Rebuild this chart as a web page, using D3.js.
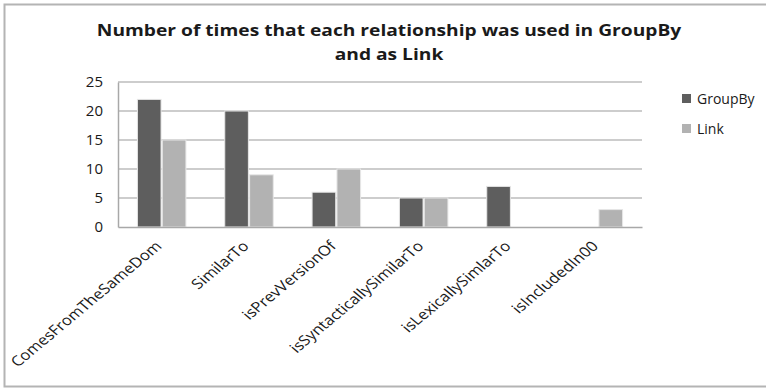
<!DOCTYPE html>
<html>
<head>
<meta charset="utf-8">
<script src="https://cdn.jsdelivr.net/npm/d3@7"></script>
<style>
  html, body { margin: 0; padding: 0; background: #fff; }
  svg { display: block; }
  text { font-family: "Open Sans", sans-serif; fill: #1a1a1a; }
</style>
</head>
<body>
<svg id="chart" width="766" height="388"></svg>
<script>
// Relationship usage counts
const categories = ["ComesFromTheSameDom", "SimilarTo", "isPrevVersionOf",
  "isSyntacticallySimilarTo", "isLexicallySimlarTo", "isIncludedIn00"];
const groupByValues = [22, 20, 6, 5, 7, 0];
const linkValues = [15, 9, 10, 5, 0, 3];
const seriesNames = ["GroupBy", "Link"];
const yTicks = [0, 5, 10, 15, 20, 25];
const titleLines = ["Number of times that each relationship was used in GroupBy", "and as Link"];

const colors = { GroupBy: "#5e5e5e", Link: "#b2b2b2" };

const svg = d3.select("#chart");
const W = 766, H = 388;
const plot = { left: 118, right: 642, top: 82, bottom: 227 };
const stretch = 1.2; // horizontal widening applied to title and slanted labels

// Outer frame
svg.append("rect")
  .attr("x", 4.5).attr("y", 4.5)
  .attr("width", W + 10).attr("height", H - 6)
  .attr("fill", "#fff")
  .attr("stroke", "#b4b4b4").attr("stroke-width", 2);

// Title
const title = svg.append("text")
  .attr("transform", `translate(389,0) scale(${stretch},1)`)
  .attr("text-anchor", "middle")
  .attr("font-weight", "bold")
  .attr("font-size", 16);
titleLines.forEach((t, i) => {
  title.append("tspan").attr("x", 0).attr("y", 36 + i * 24).text(t);
});

const x0 = d3.scaleBand().domain(categories).range([plot.left, plot.right]).paddingInner(0).paddingOuter(0);
const x1 = d3.scaleBand().domain(seriesNames).range([0, 48.5]).paddingInner(0.05);
const y = d3.scaleLinear().domain([0, 25]).range([plot.bottom, plot.top]);

// Gridlines
svg.append("g")
  .selectAll("line")
  .data(yTicks.filter(d => d > 0))
  .join("line")
  .attr("x1", plot.left).attr("x2", plot.right)
  .attr("y1", d => y(d)).attr("y2", d => y(d))
  .attr("stroke", "#bcbcbc").attr("stroke-width", 1.5);

// Y axis
const yAxis = svg.append("g")
  .attr("transform", `translate(${plot.left},0)`)
  .call(d3.axisLeft(y).tickValues(yTicks).tickSize(0).tickPadding(15));
yAxis.select(".domain").attr("stroke", "#a8a8a8").attr("stroke-width", 1.5);
yAxis.selectAll("text").attr("font-size", 15).attr("fill", "#1a1a1a")
  .style("font-family", "'Open Sans', sans-serif");

// Bars
const rows = categories.map((c, i) => ({ c, GroupBy: groupByValues[i], Link: linkValues[i] }));
const groups = svg.append("g").selectAll("g")
  .data(rows)
  .join("g")
  .attr("transform", d => `translate(${x0(d.c) + (x0.bandwidth() - 48.5) / 2},0)`);
groups.selectAll("rect")
  .data(d => seriesNames.map(s => ({ s, v: d[s] })).filter(e => e.v > 0))
  .join("rect")
  .attr("x", d => x1(d.s))
  .attr("width", x1.bandwidth())
  .attr("y", d => y(d.v))
  .attr("height", d => y(0) - y(d.v))
  .attr("fill", d => colors[d.s])
  .attr("stroke", "#e6e6e6").attr("stroke-width", 1);

// X axis baseline
const xAxis = svg.append("g")
  .attr("transform", `translate(0,${plot.bottom})`)
  .call(d3.axisBottom(x0).tickSize(0).tickFormat(""));
xAxis.select(".domain").attr("stroke", "#a8a8a8").attr("stroke-width", 1.5);

// Rotated category labels (slightly widened slant)
svg.append("g").selectAll("text")
  .data(categories)
  .join("text")
  .attr("transform", d => `translate(${x0(d) + x0.bandwidth() / 2 + 1},${plot.bottom + 20}) scale(${stretch},1) rotate(-45)`)
  .attr("text-anchor", "end")
  .attr("font-size", 14)
  .text(d => d);

// Legend
const legend = svg.append("g").selectAll("g")
  .data(seriesNames)
  .join("g")
  .attr("transform", (d, i) => `translate(682,${99 + i * 30})`);
legend.append("rect")
  .attr("x", 0).attr("y", -5).attr("width", 9).attr("height", 9)
  .attr("fill", d => colors[d]);
legend.append("text")
  .attr("x", 15).attr("y", 0).attr("dy", "0.35em")
  .attr("font-size", 14)
  .text(d => d);
</script>
</body>
</html>
